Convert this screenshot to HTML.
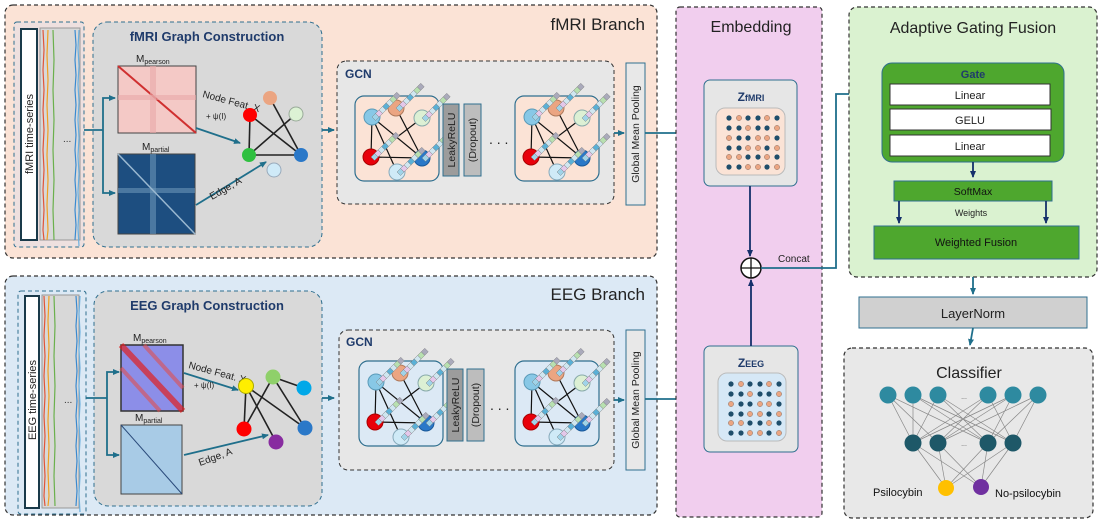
<!DOCTYPE html>
<html><head><meta charset="utf-8"><style>
html,body{margin:0;padding:0;background:#fff;}
svg{display:block;font-family:"Liberation Sans",sans-serif;}
</style></head><body>
<svg width="1106" height="523" viewBox="0 0 1106 523" xmlns="http://www.w3.org/2000/svg">
<defs>
<marker id="ar" markerWidth="8" markerHeight="8" refX="6" refY="3" orient="auto" markerUnits="userSpaceOnUse"><path d="M0,0 L7,3 L0,6 z" fill="#1f6f8b"/></marker>
<marker id="ad" markerWidth="8" markerHeight="8" refX="6" refY="3" orient="auto" markerUnits="userSpaceOnUse"><path d="M0,0 L7,3 L0,6 z" fill="#15306b"/></marker>
<g id="stripe">
<rect x="0" y="0" width="5" height="5" fill="#9fd3e8" stroke="#777" stroke-width="0.4"/>
<rect x="5" y="0" width="5" height="5" fill="#e4c7ea" stroke="#777" stroke-width="0.4"/>
<rect x="10" y="0" width="5" height="5" fill="#cfe6f0" stroke="#777" stroke-width="0.4"/>
<rect x="15" y="0" width="5" height="5" fill="#5ab0d6" stroke="#777" stroke-width="0.4"/>
<rect x="20" y="0" width="5" height="5" fill="#cfe6f0" stroke="#777" stroke-width="0.4"/>
<rect x="25" y="0" width="5" height="5" fill="#b8e0b0" stroke="#777" stroke-width="0.4"/>
<rect x="30" y="0" width="5" height="5" fill="#aab" stroke="#777" stroke-width="0.4"/>
</g>
<g id="gnodes">
<g stroke="#111" stroke-width="1.2">
<line x1="17" y1="21" x2="16" y2="61"/><line x1="17" y1="21" x2="67" y2="62"/><line x1="17" y1="21" x2="42" y2="76"/>
<line x1="41" y1="12" x2="67" y2="62"/><line x1="67" y1="22" x2="16" y2="61"/><line x1="16" y1="61" x2="67" y2="62"/>
</g>
<circle cx="17" cy="21" r="8" fill="#88c8e6" stroke="#5a9ab8"/>
<circle cx="41" cy="12" r="8" fill="#eba582" stroke="#b07a5c"/>
<circle cx="67" cy="22" r="8" fill="#dcf0d4" stroke="#8aa"/>
<circle cx="16" cy="61" r="8" fill="#e8000a" stroke="#a00"/>
<circle cx="67" cy="62" r="8" fill="#2a78c8" stroke="#1a5a9a"/>
<circle cx="42" cy="76" r="8" fill="#cfeaf7" stroke="#8ab"/>
<use href="#stripe" transform="translate(17,21) rotate(-45)"/>
<use href="#stripe" transform="translate(41,12) rotate(-45)"/>
<use href="#stripe" transform="translate(67,22) rotate(-45)"/>
<use href="#stripe" transform="translate(16,61) rotate(-45)"/>
<use href="#stripe" transform="translate(67,62) rotate(-45)"/>
<use href="#stripe" transform="translate(42,76) rotate(-45)"/>
</g>
<g id="dots">
<g fill="#1f4e6b">
<circle cx="6" cy="6" r="2.6"/><circle cx="25" cy="6" r="2.6"/><circle cx="35" cy="6" r="2.6"/><circle cx="54" cy="6" r="2.6"/>
<circle cx="6" cy="16" r="2.6"/><circle cx="16" cy="16" r="2.6"/><circle cx="35" cy="16" r="2.6"/><circle cx="44" cy="16" r="2.6"/>
<circle cx="16" cy="26" r="2.6"/><circle cx="25" cy="26" r="2.6"/><circle cx="54" cy="26" r="2.6"/>
<circle cx="6" cy="36" r="2.6"/><circle cx="16" cy="36" r="2.6"/><circle cx="44" cy="36" r="2.6"/>
<circle cx="25" cy="45" r="2.6"/><circle cx="35" cy="45" r="2.6"/><circle cx="54" cy="45" r="2.6"/>
<circle cx="6" cy="55" r="2.6"/><circle cx="16" cy="55" r="2.6"/><circle cx="44" cy="55" r="2.6"/>
</g>
<g fill="#eba582" stroke="#8a6a5a" stroke-width="0.5">
<circle cx="16" cy="6" r="2.6"/><circle cx="44" cy="6" r="2.6"/>
<circle cx="25" cy="16" r="2.6"/><circle cx="54" cy="16" r="2.6"/>
<circle cx="6" cy="26" r="2.6"/><circle cx="35" cy="26" r="2.6"/><circle cx="44" cy="26" r="2.6"/>
<circle cx="25" cy="36" r="2.6"/><circle cx="35" cy="36" r="2.6"/><circle cx="54" cy="36" r="2.6"/>
<circle cx="6" cy="45" r="2.6"/><circle cx="16" cy="45" r="2.6"/><circle cx="44" cy="45" r="2.6"/>
<circle cx="25" cy="55" r="2.6"/><circle cx="35" cy="55" r="2.6"/><circle cx="54" cy="55" r="2.6"/>
</g>
</g>
<g id="traces" fill="none" stroke-width="1.2">
<path d="M43 0 l1 20 l-1 20 l1 20 l-1 20 l1 20 l-1 20 l1 20 l-1 20 l1 20 l-1 20 l1 10" stroke="#e0553a"/>
<path d="M48 0 l-1 25 l1 25 l-1 25 l1 25 l-1 25 l1 25 l-1 25 l1 25 l-1 10" stroke="#f0a020"/>
<path d="M53 0 l1 30 l-1 30 l1 30 l-1 30 l1 30 l-1 30 l1 30" stroke="#6ab04c"/>
<path d="M75 0 l1 15 l-1 15 l1 15 l-1 15 l1 15 l-1 15 l1 15 l-1 15 l1 15 l-1 15 l1 15 l-1 15 l1 15 l-1 15" stroke="#3a8ad0"/>
<path d="M79 0 l-1 18 l1 18 l-1 18 l1 18 l-1 18 l1 18 l-1 18 l1 18 l-1 18 l1 18 l-1 18 l1 18" stroke="#6ab0e0"/>
</g>
</defs>

<!-- fMRI Branch -->
<rect x="5" y="5" width="652" height="253" rx="8" fill="#fbe3d6" stroke="#333" stroke-width="1.2" stroke-dasharray="4,3"/>
<text x="645" y="30" font-size="17" text-anchor="end" fill="#222">fMRI Branch</text>
<rect x="14" y="22" width="70" height="225" rx="3" fill="#dde" fill-opacity="0.4" stroke="#2f6f8f" stroke-dasharray="4,3"/>
<rect x="40" y="28" width="40" height="212" fill="#d8d8d8" stroke="#999"/>
<g transform="translate(0,30)"><use href="#traces"/></g>
<text x="63" y="142" font-size="10" fill="#333">...</text>
<rect x="21" y="29" width="16" height="211" fill="#fff" stroke="#1a3a4a" stroke-width="2"/>
<text transform="translate(33,134) rotate(-90)" font-size="11" text-anchor="middle" fill="#222">fMRI time-series</text>
<rect x="93" y="22" width="229" height="225" rx="14" fill="#d9d9d9" stroke="#2f6f8f" stroke-dasharray="4,3"/>
<text x="207" y="41" font-size="13" font-weight="bold" text-anchor="middle" fill="#1f3b6b">fMRI Graph Construction</text>
<text x="136" y="62" font-size="10" fill="#222">M<tspan font-size="7" dy="2">pearson</tspan></text>
<rect x="118" y="66" width="78" height="67" fill="#f4c9c6" stroke="#444"/>
<line x1="118" y1="66" x2="196" y2="133" stroke="#d03030" stroke-width="2"/>
<rect x="150" y="66" width="6" height="67" fill="#e8a8a8" opacity="0.6"/>
<rect x="118" y="95" width="78" height="5" fill="#e8a8a8" opacity="0.6"/>
<text x="142" y="150" font-size="10" fill="#222">M<tspan font-size="7" dy="2">partial</tspan></text>
<rect x="118" y="154" width="77" height="80" fill="#1d4e80" stroke="#444"/>
<rect x="150" y="154" width="6" height="80" fill="#6a94b8" opacity="0.6"/>
<rect x="118" y="188" width="77" height="5" fill="#6a94b8" opacity="0.6"/>
<line x1="118" y1="154" x2="195" y2="234" stroke="#9ab8d0" stroke-width="1.5"/>
<g stroke="#1f6f8b" stroke-width="1.8" fill="none">
<path d="M84 130 H103"/><path d="M103 130 V98 H115" marker-end="url(#ar)"/><path d="M103 130 V193 H115" marker-end="url(#ar)"/>
<path d="M196 128 L240 143" marker-end="url(#ar)"/><path d="M196 205 L266 162" marker-end="url(#ar)"/>
<path d="M322 130 H334" marker-end="url(#ar)"/>
</g>
<text transform="translate(202,97) rotate(15)" font-size="10" fill="#222">Node Feat. X</text>
<text x="206" y="119" font-size="8" fill="#222">+ ψ(I)</text>
<text transform="translate(212,200) rotate(-30)" font-size="10" fill="#222">Edge, A</text>
<g stroke="#222" stroke-width="1.6">
<line x1="250" y1="115" x2="249" y2="155"/><line x1="249" y1="155" x2="301" y2="155"/><line x1="250" y1="115" x2="301" y2="155"/>
<line x1="296" y1="114" x2="249" y2="155"/><line x1="270" y1="98" x2="301" y2="155"/>
</g>
<circle cx="250" cy="115" r="7" fill="#f00"/><circle cx="270" cy="98" r="7" fill="#eba582"/>
<circle cx="296" cy="114" r="7" fill="#dcf2d4" stroke="#9a9"/><circle cx="249" cy="155" r="7" fill="#2fc040"/>
<circle cx="301" cy="155" r="7" fill="#2a78c8"/><circle cx="274" cy="170" r="7" fill="#cfeaf8" stroke="#9ab"/>
<rect x="337" y="61" width="277" height="143" rx="9" fill="#e7e7e7" stroke="#333" stroke-dasharray="4,3"/>
<text x="345" y="78" font-size="12" font-weight="bold" fill="#1f3b6b">GCN</text>
<rect x="355" y="96" width="84" height="85" rx="9" fill="#fbe3d6" stroke="#2f6f8f" stroke-width="1.2"/>
<rect x="515" y="96" width="84" height="85" rx="9" fill="#fbe3d6" stroke="#2f6f8f" stroke-width="1.2"/>
<use href="#gnodes" transform="translate(355,96)"/>
<use href="#gnodes" transform="translate(515,96)"/>
<rect x="443" y="104" width="16" height="72" fill="#9c9c9c" stroke="#2f6f8f"/>
<text transform="translate(455,140) rotate(-90)" font-size="10.5" text-anchor="middle" fill="#222">LeakyReLU</text>
<rect x="464" y="104" width="17" height="72" fill="#bdbdbd" stroke="#2f6f8f"/>
<text transform="translate(476,140) rotate(-90)" font-size="10.5" text-anchor="middle" fill="#222">(Dropout)</text>
<text x="489" y="144" font-size="14" fill="#222">. . .</text>
<rect x="626" y="63" width="19" height="142" fill="#e8e8e8" stroke="#2f6f8f"/>
<text transform="translate(639,134) rotate(-90)" font-size="10.5" text-anchor="middle" fill="#222">Global Mean Pooling</text>
<path d="M614 133 H624" stroke="#1f6f8b" stroke-width="1.8" marker-end="url(#ar)"/>

<!-- EEG Branch -->
<rect x="5" y="276" width="652" height="239" rx="8" fill="#dce9f5" stroke="#333" stroke-width="1.2" stroke-dasharray="4,3"/>
<text x="645" y="300" font-size="17" text-anchor="end" fill="#222">EEG Branch</text>
<rect x="18" y="291" width="68" height="223" rx="3" fill="none" stroke="#2f6f8f" stroke-dasharray="4,3"/>
<rect x="42" y="295" width="37" height="213" fill="#d8d8d8" stroke="#999"/>
<g transform="translate(1,296)"><use href="#traces"/></g>
<text x="64" y="403" font-size="10" fill="#333">...</text>
<rect x="25" y="296" width="14" height="212" fill="#fff" stroke="#1a3a4a" stroke-width="2"/>
<text transform="translate(36,400) rotate(-90)" font-size="11" text-anchor="middle" fill="#222">EEG time-series</text>
<rect x="94" y="291" width="228" height="215" rx="14" fill="#d9d9d9" stroke="#2f6f8f" stroke-dasharray="4,3"/>
<text x="207" y="310" font-size="13" font-weight="bold" text-anchor="middle" fill="#1f3b6b">EEG Graph Construction</text>
<text x="133" y="341" font-size="10" fill="#222">M<tspan font-size="7" dy="2">pearson</tspan></text>
<rect x="121" y="345" width="62" height="66" fill="#8c8ee8" stroke="#333" stroke-width="1.5"/>
<line x1="121" y1="345" x2="183" y2="411" stroke="#e02020" stroke-width="6" opacity="0.7"/>
<line x1="121" y1="368" x2="160" y2="411" stroke="#e05050" stroke-width="4" opacity="0.6"/>
<line x1="144" y1="345" x2="183" y2="388" stroke="#e05050" stroke-width="4" opacity="0.6"/>
<text x="135" y="421" font-size="10" fill="#222">M<tspan font-size="7" dy="2">partial</tspan></text>
<rect x="121" y="425" width="61" height="69" fill="#a8cbe6" stroke="#444"/>
<line x1="121" y1="425" x2="182" y2="494" stroke="#2a4a7a" stroke-width="1"/>
<g stroke="#1f6f8b" stroke-width="1.8" fill="none">
<path d="M86 398 H107"/><path d="M107 398 V372 H119" marker-end="url(#ar)"/><path d="M107 398 V455 H119" marker-end="url(#ar)"/>
<path d="M184 373 L238 390" marker-end="url(#ar)"/><path d="M184 455 L268 435" marker-end="url(#ar)"/>
<path d="M322 398 H334" marker-end="url(#ar)"/>
</g>
<text transform="translate(188,368) rotate(15)" font-size="10" fill="#222">Node Feat. X</text>
<text x="194" y="388" font-size="8" fill="#222">+ ψ(I)</text>
<text transform="translate(200,466) rotate(-20)" font-size="10" fill="#222">Edge, A</text>
<g stroke="#222" stroke-width="1.6">
<line x1="246" y1="386" x2="244" y2="429"/><line x1="246" y1="386" x2="276" y2="442"/><line x1="246" y1="386" x2="305" y2="428"/>
<line x1="273" y1="377" x2="244" y2="429"/><line x1="273" y1="377" x2="305" y2="428"/><line x1="273" y1="377" x2="304" y2="388"/>
</g>
<circle cx="246" cy="386" r="7.5" fill="#ffee00" stroke="#aa0"/><circle cx="273" cy="377" r="7.5" fill="#8fd06a"/>
<circle cx="304" cy="388" r="7.5" fill="#00a8e8"/><circle cx="244" cy="429" r="7.5" fill="#f00"/>
<circle cx="305" cy="428" r="7.5" fill="#2a78c8"/><circle cx="276" cy="442" r="7.5" fill="#882ca0"/>
<rect x="339" y="330" width="275" height="140" rx="9" fill="#e7e7e7" stroke="#333" stroke-dasharray="4,3"/>
<text x="346" y="346" font-size="12" font-weight="bold" fill="#1f3b6b">GCN</text>
<rect x="359" y="361" width="84" height="85" rx="9" fill="#dce9f5" stroke="#2f6f8f" stroke-width="1.2"/>
<rect x="515" y="361" width="84" height="85" rx="9" fill="#dce9f5" stroke="#2f6f8f" stroke-width="1.2"/>
<use href="#gnodes" transform="translate(359,361)"/>
<use href="#gnodes" transform="translate(515,361)"/>
<rect x="447" y="369" width="16" height="72" fill="#9c9c9c" stroke="#2f6f8f"/>
<text transform="translate(459,405) rotate(-90)" font-size="10.5" text-anchor="middle" fill="#222">LeakyReLU</text>
<rect x="467" y="369" width="17" height="72" fill="#bdbdbd" stroke="#2f6f8f"/>
<text transform="translate(479,405) rotate(-90)" font-size="10.5" text-anchor="middle" fill="#222">(Dropout)</text>
<text x="490" y="410" font-size="14" fill="#222">. . .</text>
<rect x="626" y="330" width="19" height="140" fill="#e8e8e8" stroke="#2f6f8f"/>
<text transform="translate(639,400) rotate(-90)" font-size="10.5" text-anchor="middle" fill="#222">Global Mean Pooling</text>
<path d="M614 400 H624" stroke="#1f6f8b" stroke-width="1.8" marker-end="url(#ar)"/>

<!-- connections to embedding -->
<path d="M645 133 H701" stroke="#1f6f8b" stroke-width="1.8" marker-end="url(#ar)"/>
<path d="M645 399 H701" stroke="#1f6f8b" stroke-width="1.8" marker-end="url(#ar)"/>

<!-- Embedding -->
<rect x="676" y="7" width="146" height="510" rx="4" fill="#f1ceee" stroke="#333" stroke-width="1.2" stroke-dasharray="4,3"/>
<text x="751" y="32" font-size="16" text-anchor="middle" fill="#222">Embedding</text>
<rect x="704" y="80" width="93" height="106" rx="6" fill="#e6e6e6" stroke="#2f6f8f"/>
<text x="751" y="101" font-size="12" font-weight="bold" text-anchor="middle" fill="#1f3b6b">Z<tspan font-size="9">fMRI</tspan></text>
<rect x="716" y="108" width="69" height="67" rx="9" fill="#fbe3d6" stroke="#bbb"/>
<g transform="translate(723,112)"><use href="#dots"/></g>
<rect x="704" y="346" width="94" height="106" rx="6" fill="#e6e6e6" stroke="#2f6f8f"/>
<text x="751" y="367" font-size="12" font-weight="bold" text-anchor="middle" fill="#1f3b6b">Z<tspan font-size="9">EEG</tspan></text>
<rect x="718" y="373" width="68" height="68" rx="9" fill="#d6e8f6" stroke="#bbb"/>
<g transform="translate(725,378)"><use href="#dots"/></g>
<path d="M750 186 V256" stroke="#15306b" stroke-width="1.8" marker-end="url(#ad)"/>
<path d="M751 346 V280" stroke="#15306b" stroke-width="1.8" marker-end="url(#ad)"/>
<circle cx="751" cy="268" r="10" fill="#fff" stroke="#111" stroke-width="1.5"/>
<line x1="741" y1="268" x2="761" y2="268" stroke="#111" stroke-width="1.3"/><line x1="751" y1="258" x2="751" y2="278" stroke="#111" stroke-width="1.3"/>
<text x="778" y="262" font-size="10" fill="#222">Concat</text>
<path d="M761 268 H836 V94 H887" fill="none" stroke="#1f6f8b" stroke-width="1.8" marker-end="url(#ar)"/>

<!-- Adaptive Gating Fusion -->
<rect x="849" y="7" width="248" height="270" rx="8" fill="#daf2d0" stroke="#333" stroke-width="1.2" stroke-dasharray="4,3"/>
<text x="973" y="33" font-size="16" text-anchor="middle" fill="#222">Adaptive Gating Fusion</text>
<rect x="882" y="63" width="182" height="99" rx="10" fill="#4ea72e" stroke="#2f6f8f"/>
<text x="973" y="78" font-size="11" font-weight="bold" text-anchor="middle" fill="#1f3b6b">Gate</text>
<rect x="890" y="84" width="160" height="21" fill="#fff" stroke="#333"/>
<text x="970" y="99" font-size="11" text-anchor="middle" fill="#222">Linear</text>
<rect x="890" y="109" width="161" height="21" fill="#fff" stroke="#333"/>
<text x="970" y="124" font-size="11" text-anchor="middle" fill="#222">GELU</text>
<rect x="890" y="135" width="160" height="21" fill="#fff" stroke="#333"/>
<text x="970" y="150" font-size="11" text-anchor="middle" fill="#222">Linear</text>
<path d="M973 162 V177" stroke="#15306b" stroke-width="1.8" marker-end="url(#ad)"/>
<rect x="894" y="181" width="158" height="20" fill="#4ea72e" stroke="#2f6f8f"/>
<text x="973" y="195" font-size="10.5" text-anchor="middle" fill="#111">SoftMax</text>
<text x="971" y="216" font-size="9" text-anchor="middle" fill="#222">Weights</text>
<path d="M899 201 V223" stroke="#15306b" stroke-width="1.8" marker-end="url(#ad)"/>
<path d="M1046 201 V223" stroke="#15306b" stroke-width="1.8" marker-end="url(#ad)"/>
<rect x="874" y="226" width="205" height="33" fill="#4ea72e" stroke="#2f6f8f"/>
<text x="976" y="246" font-size="11" text-anchor="middle" fill="#111">Weighted Fusion</text>
<path d="M973 277 V294" stroke="#1f6f8b" stroke-width="1.8" marker-end="url(#ar)"/>
<rect x="859" y="297" width="228" height="31" fill="#d0d0d0" stroke="#2f6f8f"/>
<text x="973" y="318" font-size="13" text-anchor="middle" fill="#222">LayerNorm</text>
<path d="M973 328 L970 345" stroke="#1f6f8b" stroke-width="1.8" marker-end="url(#ar)"/>

<!-- Classifier -->
<rect x="844" y="348" width="249" height="170" rx="8" fill="#e8e8e8" stroke="#333" stroke-width="1.2" stroke-dasharray="4,3"/>
<text x="969" y="378" font-size="16" text-anchor="middle" fill="#222">Classifier</text>
<g stroke="#888" stroke-width="0.7">
<path d="M888 395 L913 443 M888 395 L938 443 M888 395 L988 443 M913 395 L913 443 M913 395 L988 443 M913 395 L1013 443 M938 395 L913 443 M938 395 L1013 443 M938 395 L988 443 M988 395 L913 443 M988 395 L938 443 M988 395 L1013 443 M1013 395 L938 443 M1013 395 L913 443 M1013 395 L988 443 M1038 395 L938 443 M1038 395 L988 443 M1038 395 L1013 443"/>
<path d="M913 443 L946 488 M938 443 L946 488 M938 443 L981 487 M988 443 L946 488 M988 443 L981 487 M1013 443 L946 488 M913 443 L981 487 M1013 443 L981 487"/>
</g>
<g fill="#2e8aa0"><circle cx="888" cy="395" r="8.5"/><circle cx="913" cy="395" r="8.5"/><circle cx="938" cy="395" r="8.5"/><circle cx="988" cy="395" r="8.5"/><circle cx="1013" cy="395" r="8.5"/><circle cx="1038" cy="395" r="8.5"/></g>
<g fill="#1e5868"><circle cx="913" cy="443" r="8.5"/><circle cx="938" cy="443" r="8.5"/><circle cx="988" cy="443" r="8.5"/><circle cx="1013" cy="443" r="8.5"/></g>
<text x="964" y="399" font-size="7" text-anchor="middle" fill="#555">...</text>
<text x="964" y="446" font-size="7" text-anchor="middle" fill="#555">...</text>
<circle cx="946" cy="488" r="8" fill="#ffc000"/>
<circle cx="981" cy="487" r="8" fill="#7030a0"/>
<text x="873" y="496" font-size="11" fill="#111">Psilocybin</text>
<text x="995" y="497" font-size="11" fill="#111">No-psilocybin</text>
</svg>
</body></html>
